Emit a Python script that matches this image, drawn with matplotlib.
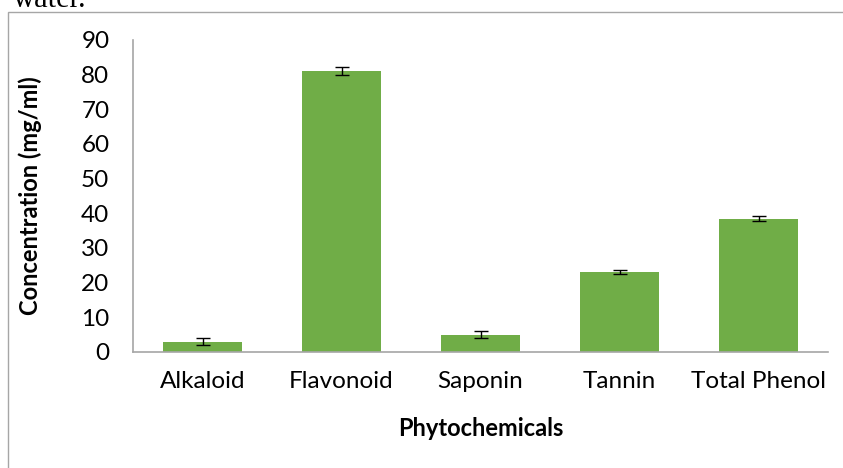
import matplotlib.pyplot as plt
from matplotlib.patches import Rectangle

categories = ['Alkaloid', 'Flavonoid', 'Saponin', 'Tannin', 'Total Phenol']
values = [3.0, 81.0, 5.0, 23.0, 38.5]
errors = [1.1, 1.1, 1.0, 0.6, 0.8]

plt.rcParams['font.family'] = ['Lato', 'DejaVu Sans']

fig = plt.figure(figsize=(8.43, 4.68), dpi=100)
ax = fig.add_axes([133/843, 1-352/468, (828-133)/843, (352-40)/468])

x = range(len(categories))
ax.bar(x, values, width=0.57, color='#70AD47', yerr=errors,
       error_kw=dict(ecolor='black', elinewidth=1, capsize=5, capthick=1))

ax.set_xlim(-0.5, len(categories) - 0.5)
ax.set_ylim(0, 90)
ax.set_yticks(range(0, 91, 10))
ax.set_xticks(list(x))
ax.set_xticklabels(categories)
ax.tick_params(axis='both', length=0, labelsize=17.5, colors='black')
ax.tick_params(axis='y', pad=17)
ax.tick_params(axis='x', pad=14)
for s in ['top', 'right']:
    ax.spines[s].set_visible(False)
for s in ['left', 'bottom']:
    ax.spines[s].set_color('#A6A6A6')
    ax.spines[s].set_linewidth(1.2)

# axis titles
ax.set_xlabel('Phytochemicals', fontsize=17, fontweight='bold', va='center')
ax.set_ylabel('Concentration (mg/ml)', fontsize=17, fontweight='bold', va='center')
ax.yaxis.set_label_coords((30 - 133) / (828 - 133), 0.5)
ax.xaxis.set_label_coords(0.5, -(428 - 352) / (352 - 40))

# outer chart frame and cropped caption text above
fig.patches.append(Rectangle((8/843, -0.1), 1.0, 1 - 12/468 + 0.1,
                             transform=fig.transFigure, fill=False,
                             edgecolor='#A6A6A6', linewidth=1))
fig.text(13/843, 1 - 7/468, 'water.', family='Liberation Serif', fontsize=22,
         va='baseline', ha='left')

fig.savefig('out.png', dpi=100)
